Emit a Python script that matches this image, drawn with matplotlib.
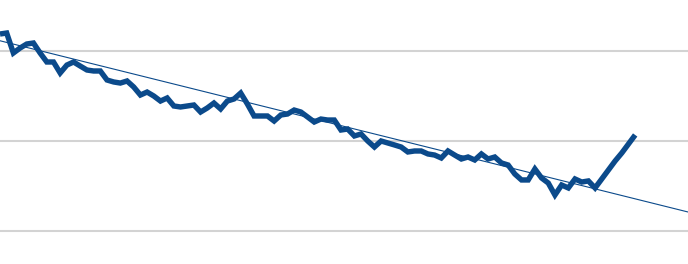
import numpy as np
import matplotlib
matplotlib.use("Agg")
import matplotlib.pyplot as plt

# series values (gridlines sit at 2, 3 and 4)
values = [4.189, 4.200, 3.978, 4.033, 4.078, 4.089, 3.978, 3.878, 3.878, 3.756,
          3.844, 3.878, 3.833, 3.789, 3.778, 3.778, 3.678, 3.656, 3.644, 3.667,
          3.600, 3.511, 3.544, 3.500, 3.444, 3.478, 3.389, 3.378, 3.389, 3.400,
          3.322, 3.367, 3.422, 3.356, 3.444, 3.467, 3.533, 3.411, 3.278, 3.278,
          3.278, 3.222, 3.289, 3.300, 3.344, 3.322, 3.267, 3.211, 3.244, 3.233,
          3.233, 3.122, 3.133, 3.056, 3.078, 3.000, 2.933, 3.000, 2.978, 2.956,
          2.933, 2.878, 2.889, 2.889, 2.856, 2.844, 2.811, 2.889, 2.844, 2.800,
          2.822, 2.789, 2.856, 2.800, 2.822, 2.756, 2.733, 2.633, 2.567, 2.567,
          2.689, 2.589, 2.533, 2.400, 2.511, 2.478, 2.578, 2.544, 2.556, 2.478,
          2.578, 2.678, 2.778, 2.867, 2.967, 3.067]
periods = np.arange(len(values))

# trend line as drawn in the picture (start and end of the visible range)
trend_x = [0, 102.9]
trend_y = [4.114, 2.211]

grid_levels = [2, 3, 4]
line_color = "#0b4a8b"

fig = plt.figure(figsize=(6.88, 2.64), dpi=100)
ax = fig.add_axes([0, 0, 1, 1])

for g in grid_levels:
    ax.axhline(g, color="#d3d3d3", linewidth=1.5, zorder=1)

ax.plot(trend_x, trend_y, color=line_color, linewidth=0.8, zorder=2)
ax.plot(periods, values, color=line_color, linewidth=3.9,
        solid_joinstyle="miter", solid_capstyle="butt", zorder=3)

ax.set_xlim(trend_x[0], trend_x[1])
ax.set_ylim(1.633, 4.567)
ax.axis("off")

fig.savefig("out.png", dpi=100)
